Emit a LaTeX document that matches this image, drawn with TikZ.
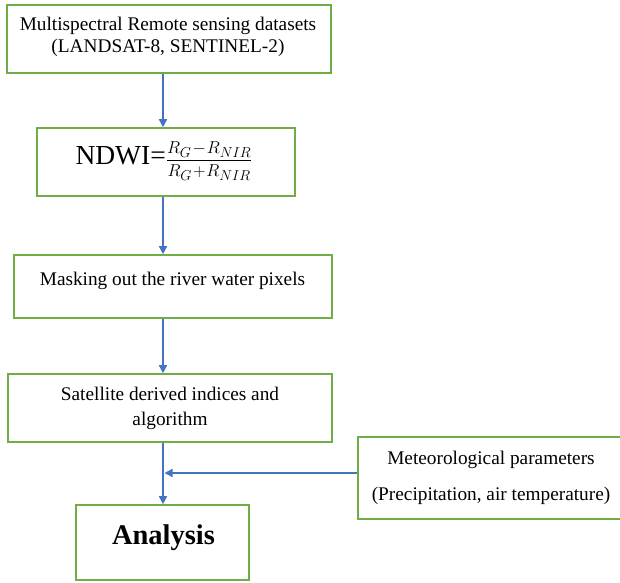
\documentclass[tikz,border=0pt]{standalone}
\usepackage{fontspec}
\setmainfont{Liberation Serif}
\usetikzlibrary{arrows.meta}
\definecolor{boxgreen}{HTML}{70AD47}
\definecolor{arrblue}{HTML}{4472C4}
\begin{document}
\begin{tikzpicture}[x=1pt,y=-1pt,
 box/.style={draw=boxgreen, line width=1.6pt, rectangle, inner sep=0pt},
 txt/.style={font=\fontsize{19.3}{22}\selectfont, align=center, inner sep=0pt},
 arr/.style={draw=arrblue, line width=1.5pt, -{Triangle[length=8pt,width=8pt]}}]
\useasboundingbox (0,0) rectangle (620,582);
\fill[white] (0,0) rectangle (620,582);
% boxes
\node[box, minimum width=324pt, minimum height=68pt] (b1) at (169,39) {};
\node[box, minimum width=258pt, minimum height=68pt] (b2) at (166,162) {};
\node[box, minimum width=318pt, minimum height=63pt] (b3) at (173,286.5) {};
\node[box, minimum width=324pt, minimum height=68pt] (b4) at (170,408) {};
\node[box, minimum width=173pt, minimum height=75pt] (b5) at (162.5,542.5) {};
\node[box, minimum width=268pt, minimum height=82pt, anchor=west] (b6) at (357,478) {};
% texts
\node[txt] (t1) at (168,37) {Multispectral Remote sensing datasets\\(LANDSAT-8, SENTINEL-2)};
\node[inner sep=0pt] (t2) at (164,161) {\fontsize{27.5}{30}\selectfont NDWI=\fontsize{19}{22}\selectfont$\displaystyle\frac{R_G\!-\!R_{NIR}}{R_G\!+\!R_{NIR}}$};
\node[txt, anchor=base] (t3) at (172.5,285) {Masking out the river water pixels};
\node[txt, font=\fontsize{19.3}{25}\selectfont] (t4) at (170,408) {Satellite derived indices and\\algorithm};
\node[inner sep=0pt, anchor=base, font=\fontsize{28.5}{30}\selectfont\bfseries] (t5) at (163.5,544) {Analysis};
\node[txt, font=\fontsize{19.3}{36}\selectfont] (t6) at (491,478) {Meteorological parameters\\(Precipitation, air temperature)};
% connectors
\coordinate (ax) at (163,0);
\coordinate (j) at (164.5,473);
\draw[arr] (ax |- b1.south) -- (ax |- b2.north);
\draw[arr] (ax |- b2.south) -- (ax |- b3.north);
\draw[arr] (ax |- b3.south) -- (ax |- b4.north);
\draw[arr] (ax |- b4.south) -- (ax |- b5.north);
\draw[arr] (b6.west |- j) -- (j);
\end{tikzpicture}
\end{document}
